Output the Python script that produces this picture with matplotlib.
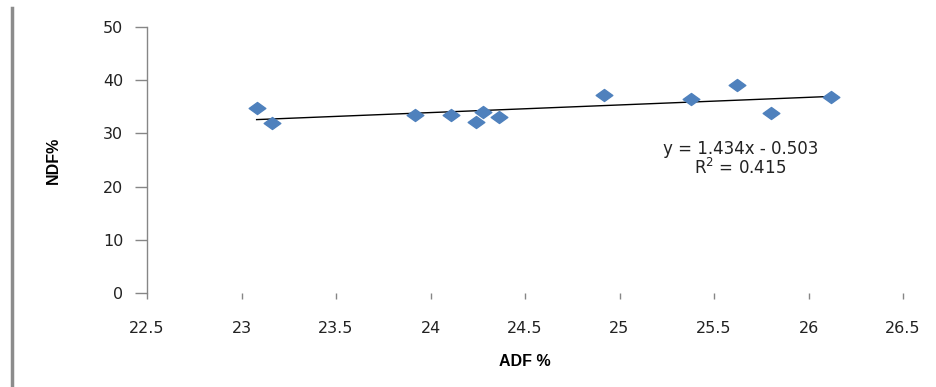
import numpy as np
import matplotlib
matplotlib.use("Agg")
import matplotlib.pyplot as plt
from matplotlib.path import Path
from matplotlib.lines import Line2D

# ADF % vs NDF % readings
adf = [23.08, 23.16, 23.92, 24.11, 24.24, 24.28, 24.36, 24.92, 25.38, 25.62, 25.80, 26.12]
ndf = [34.8, 32.0, 33.4, 33.5, 32.2, 34.0, 33.0, 37.3, 36.4, 39.1, 33.9, 36.9]

# trendline from the equation shown on the chart
slope = 1.434
intercept = -0.503
r2 = 0.415

xticks = [22.5, 23, 23.5, 24, 24.5, 25, 25.5, 26, 26.5]
yticks = [0, 10, 20, 30, 40, 50]

fig = plt.figure(figsize=(9.37, 3.87), dpi=100)
ax = fig.add_axes([147/937, 1-293/387, (903-147)/937, (293-27)/387])

# wide squat diamond like excel
diamond = Path([(-1, 0), (0, 0.72), (1, 0), (0, -0.72), (-1, 0)],
               [Path.MOVETO, Path.LINETO, Path.LINETO, Path.LINETO, Path.CLOSEPOLY])
ax.plot(adf, ndf, linestyle="none", marker=diamond, markersize=12,
        color="#4F81BD", markeredgecolor="#4F81BD", zorder=3)

tx = np.array([min(adf), max(adf)])
ax.plot(tx, slope*tx + intercept, color="black", linewidth=1.0, zorder=2)

ax.set_xlim(22.5, 26.5)
ax.set_ylim(0, 50)
ax.set_xticks(xticks)
ax.set_xticklabels(["22.5", "23", "23.5", "24", "24.5", "25", "25.5", "26", "26.5"])
ax.set_yticks(yticks)

for s in ["top", "right", "bottom"]:
    ax.spines[s].set_visible(False)
ax.spines["left"].set_color("#868686")
ax.spines["left"].set_linewidth(1.0)

ax.tick_params(axis="y", direction="out", length=9, width=1, color="#868686",
               labelsize=11.5, labelcolor="#222222", pad=8)
ax.tick_params(axis="x", direction="out", length=4, width=1, color="#868686",
               labelsize=11.5, labelcolor="#222222", pad=16)

ax.set_xlabel("ADF %", fontsize=11.5, fontweight="bold", family="Liberation Sans", labelpad=13)
ax.set_ylabel("NDF%", fontsize=11.5, fontweight="bold", family="Liberation Sans", labelpad=30)

ax.text(25.64, 27.0, "y = 1.434x - 0.503", fontsize=12, ha="center", va="center", color="#222222")
ax.text(25.64, 23.5, "R$^2$ = 0.415", fontsize=12, ha="center", va="center", color="#222222")

# gray bar on left edge
fig.add_artist(Line2D([12/937, 12/937], [1-8/387, 1-385/387], color="#8c8c8c", linewidth=2.5))

fig.savefig("out.png", dpi=100)
